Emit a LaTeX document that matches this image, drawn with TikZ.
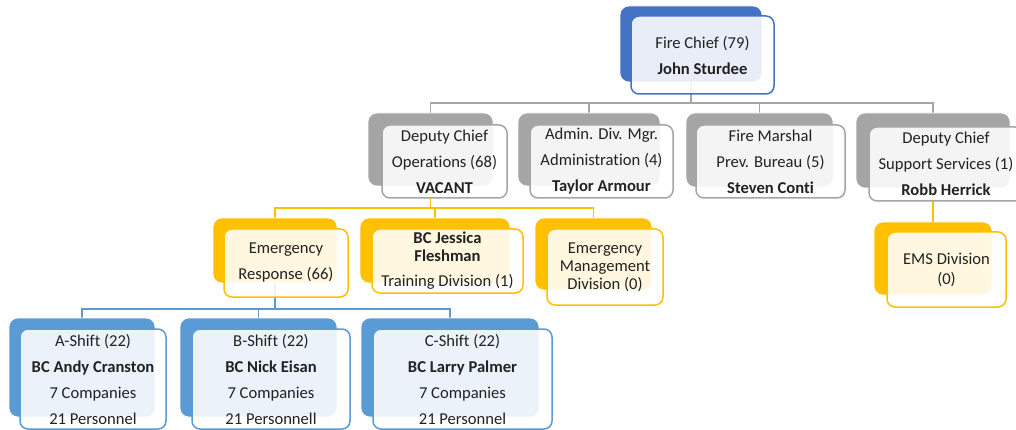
\documentclass[tikz,border=0pt]{standalone}
\usepackage{fontspec}
\setmainfont{Carlito}[Ligatures=NoCommon]
\usetikzlibrary{backgrounds}

\definecolor{chiefblue}{HTML}{4472C4}
\definecolor{staffgray}{HTML}{A5A5A5}
\definecolor{divgold}{HTML}{FFC000}
\definecolor{shiftblue}{HTML}{5B9BD5}
\definecolor{ink}{HTML}{222222}

\tikzset{
  unitback/.style={fill=#1, draw=white, line width=0.6pt, rounded corners=9pt, inner sep=0pt},
  unitfront/.style={draw=#1, line width=1.5pt, fill=white, fill opacity=0.88, text opacity=1,
    rounded corners=8pt, inner sep=0pt, align=center, text=ink,
    font=\fontsize{16.6}{26}\selectfont},
  link/.style={draw=#1, line width=1.8pt},
}

\begin{document}
\begin{tikzpicture}[x=1pt, y=-1pt]
    \useasboundingbox (0,0) rectangle (1016,430);

    % Nodes
    \node[unitback=chiefblue, minimum width=142, minimum height=76] (chief) at (691,44) {};
    \node[unitfront=chiefblue, minimum width=143, minimum height=78] (chiefF) at (702.5,55)
        {Fire Chief (79)\\\textbf{John Sturdee}};

    \node[unitback=staffgray, minimum width=125, minimum height=73] (ops) at (430.5,149.5) {};
    \node[unitfront=staffgray, minimum width=125, minimum height=73] (opsF) at (444.5,161.5)
        {Deputy Chief\\Operations (68)\\\textbf{VACANT}};
    \node[unitback=staffgray, minimum width=142, minimum height=73] (admin) at (589,149.5) {};
    \node[unitfront=staffgray, minimum width=143, minimum height=73] (adminF) at (601.5,161.5)
        {Admin. Div. Mgr.\\Administration (4)\\\textbf{Taylor Armour}};
    \node[unitback=staffgray, minimum width=147, minimum height=74] (marshal) at (759.5,150) {};
    \node[unitfront=staffgray, minimum width=149, minimum height=73] (marshalF) at (770.5,161.5)
        {Fire Marshal\\Prev. Bureau (5)\\\textbf{Steven Conti}};
    \node[unitback=staffgray, minimum width=154, minimum height=75] (support) at (933,150.5) {};
    \node[unitfront=staffgray, minimum width=154, minimum height=74] (supportF) at (946,164)
        {Deputy Chief\\Support Services (1)\\\textbf{Robb Herrick}};

    \node[unitback=divgold, minimum width=124, minimum height=65] (resp) at (275,250.5) {};
    \node[unitfront=divgold, minimum width=124, minimum height=68] (respF) at (286,263)
        {Emergency\\Response (66)};
    \node[unitback=divgold, minimum width=150, minimum height=65] (train) at (435,250.5) {};
    \node[unitfront=divgold, minimum width=151, minimum height=64] (trainF) at (447.5,261)
        {\textbf{BC Jessica}\\[-8pt]\textbf{Fleshman}\\[-1pt]Training Division (1)};
    \node[unitback=divgold, minimum width=117, minimum height=72] (emgmt) at (593.5,254) {};
    \node[unitfront=divgold, minimum width=116, minimum height=76] (emgmtF) at (605,267)
        {Emergency\\[-8pt]Management\\[-8pt]Division (0)};
    \node[unitback=divgold, minimum width=118, minimum height=73] (ems) at (933,258.5) {};
    \node[unitfront=divgold, minimum width=119, minimum height=75] (emsF) at (946.5,269.5)
        {EMS Division\\[-6pt](0)};

    \node[unitback=shiftblue, minimum width=146, minimum height=99] (shiftA) at (82,367.5) {};
    \node[unitfront=shiftblue, minimum width=146, minimum height=100] (shiftAF) at (93,379)
        {A-Shift (22)\\\textbf{BC Andy Cranston}\\7 Companies\\21 Personnel};
    \node[unitback=shiftblue, minimum width=157, minimum height=99] (shiftB) at (258.5,367.5) {};
    \node[unitfront=shiftblue, minimum width=158, minimum height=100] (shiftBF) at (271,379)
        {B-Shift (22)\\\textbf{BC Nick Eisan}\\7 Companies\\21 Personnell};
    \node[unitback=shiftblue, minimum width=178, minimum height=99] (shiftC) at (450,367.5) {};
    \node[unitfront=shiftblue, minimum width=179, minimum height=100] (shiftCF) at (462.5,379)
        {C-Shift (22)\\\textbf{BC Larry Palmer}\\7 Companies\\21 Personnel};

    % Edges
    \begin{pgfonlayer}{background}
        \draw[link=staffgray] (chief.south) -- ++(0,21) coordinate (staffbar);
        \foreach \u in {ops, admin, marshal, support}
            \draw[link=staffgray] (staffbar) -| (\u.north);
        \draw[link=divgold] (ops.south) -- ++(0,22) coordinate (opsbar);
        \foreach \u in {resp, train, emgmt}
            \draw[link=divgold] (opsbar) -| (\u.north);
        \draw[link=divgold] (support.south) -- (ems.north);
        \draw[link=shiftblue] (resp.south) -- ++(0,26) coordinate (shiftbar);
        \foreach \u in {shiftA, shiftB, shiftC}
            \draw[link=shiftblue] (shiftbar) -| (\u.north);
    \end{pgfonlayer}
\end{tikzpicture}
\end{document}
